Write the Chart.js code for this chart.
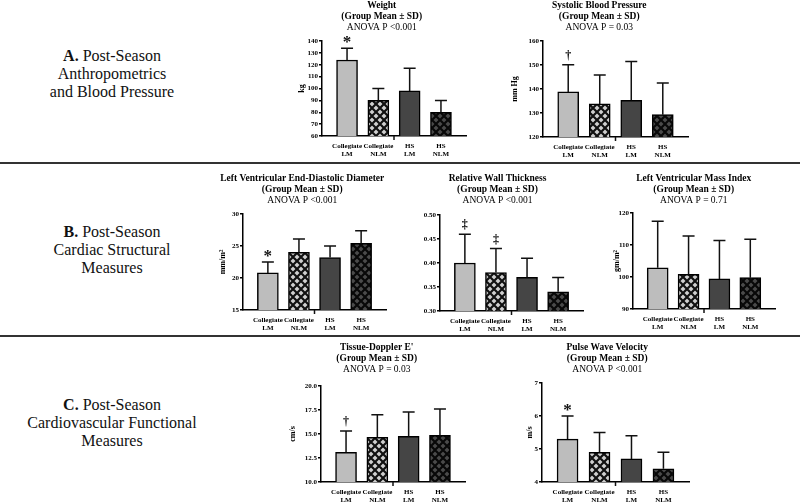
<!DOCTYPE html>
<html>
<head>
<meta charset="utf-8">
<script src="https://cdn.jsdelivr.net/npm/chart.js@4"></script>
<style>
  html, body { margin: 0; padding: 0; background: #fff; }
  body { width: 800px; height: 504px; position: relative; overflow: hidden; font-family: 'Liberation Serif', 'Times New Roman', serif; }
  canvas { position: absolute; }
  .section { position: absolute; left: 0; width: 224px; text-align: center; font-size: 16px; line-height: 18px; color: #111; }
  .rule { position: absolute; left: 0; width: 800px; height: 2px; background: #333; }
</style>
</head>
<body>
<div class="section" style="top:47px"><b>A.</b> Post-Season<br>Anthropometrics<br>and Blood Pressure</div>
<div class="rule" style="top:162px"></div>
<div class="section" style="top:223px"><b>B.</b> Post-Season<br>Cardiac Structural<br>Measures</div>
<div class="rule" style="top:335px"></div>
<div class="section" style="top:396px"><b>C.</b> Post-Season<br>Cardiovascular Functional<br>Measures</div>

<script>
// groupes (identiques pour chaque panneau)
const groupLabels = [['Collegiate', 'LM'], ['Collegiate', 'NLM'], ['HS', 'LM'], ['HS', 'NLM']];

// A. Poids et pression systolique
const weightMean = [124, 90, 98, 80];
const weightSD = [10, 10, 19, 10];
const weightMarks = ['*', '', '', ''];

const sbpMean = [138.8, 133.8, 135.3, 129.3];
const sbpSD = [11.3, 12.0, 16.2, 13.2];
const sbpMarks = ['†', '', '', ''];

// B. Structure cardiaque
const lveddMean = [20.8, 24.0, 23.2, 25.4];
const lveddSD = [1.7, 2.1, 1.8, 2.0];
const lveddMarks = ['*', '', '', ''];

const rwtMean = [0.40, 0.38, 0.37, 0.34];
const rwtSD = [0.06, 0.05, 0.04, 0.03];
const rwtMarks = ['‡', '‡', '', ''];

const lvmiMean = [102.9, 100.8, 99.4, 99.8];
const lvmiSD = [14.5, 12.0, 12.0, 12.0];
const lvmiMarks = ['', '', '', ''];

// C. Fonction cardiovasculaire
const eMean = [13.1, 14.65, 14.75, 14.85];
const eSD = [2.2, 2.35, 2.55, 2.75];
const eMarks = ['†', '', '', ''];

const pwvMean = [5.3, 4.9, 4.7, 4.4];
const pwvSD = [0.7, 0.6, 0.7, 0.5];
const pwvMarks = ['*', '', '', ''];

Chart.defaults.font.family = "'Liberation Serif', 'Times New Roman', serif";
Chart.defaults.color = '#000';

// motif "damier" en diagonale pour les groupes NLM
function makePattern(bg, line) {
  const c = document.createElement('canvas');
  c.width = 8; c.height = 8;
  const g = c.getContext('2d');
  g.fillStyle = bg;
  g.fillRect(0, 0, 8, 8);
  g.strokeStyle = line;
  g.lineWidth = 2.2;
  g.beginPath();
  g.moveTo(-1, -1); g.lineTo(9, 9);
  g.moveTo(-1, 9); g.lineTo(9, -1);
  g.stroke();
  return g.createPattern(c, 'repeat');
}
const barColors = ['#bdbdbd', makePattern('#cfcfcf', '#111'), '#454545', makePattern('#4a4a4a', '#080808')];

// barres d'erreur (moyenne + ET), marques de significativité, tick central
const errBars = {
  id: 'errbars',
  afterDatasetsDraw(chart, args, opts) {
    const ctx = chart.ctx;
    const yS = chart.scales.y, xS = chart.scales.x;
    const meta = chart.getDatasetMeta(0);
    const vals = chart.data.datasets[0].data;
    ctx.save();
    ctx.strokeStyle = '#111';
    ctx.lineWidth = 1.5;
    meta.data.forEach((bar, i) => {
      const top = yS.getPixelForValue(vals[i].y + opts.sd[i]);
      ctx.beginPath();
      ctx.moveTo(bar.x, bar.y);
      ctx.lineTo(bar.x, top);
      ctx.moveTo(bar.x - 6, top);
      ctx.lineTo(bar.x + 6, top);
      ctx.stroke();
      const m = opts.marks[i];
      if (m) {
        ctx.fillStyle = '#111';
        ctx.textAlign = 'center';
        ctx.textBaseline = 'alphabetic';
        if (m === '*') {
          ctx.font = "bold 17px 'Liberation Serif'";
          ctx.fillText(m, bar.x, top - 1);
        } else {
          ctx.font = "bold 12px 'Liberation Serif'";
          ctx.fillText(m, bar.x, top - 6);
        }
      }
    });
    const mx = xS.getPixelForValue(1.5);
    ctx.beginPath();
    ctx.moveTo(mx, chart.chartArea.bottom);
    ctx.lineTo(mx, chart.chartArea.bottom + 4);
    ctx.stroke();
    ctx.restore();
  }
};

function drawPanel(p) {
  const lh = 9;
  const yW = p.yTitleX ? p.axisL - p.yTitleX + lh / 2 : 28;
  const half = Math.max(p.titleX - (p.axisL - yW), p.axisR - p.titleX) + 2;
  const left = Math.round(p.titleX - half);
  const right = Math.round(p.titleX + half);
  const xH = 28;
  const canvas = document.createElement('canvas');
  canvas.width = right - left;
  canvas.height = p.plotB + xH - p.titleTop + 2;
  canvas.style.left = left + 'px';
  canvas.style.top = p.titleTop + 'px';
  document.body.appendChild(canvas);

  new Chart(canvas, {
    type: 'bar',
    data: {
      datasets: [{
        data: p.mean.map((v, i) => ({ x: i, y: v })),
        backgroundColor: barColors,
        borderColor: '#000',
        borderWidth: 1.5,
        barThickness: 21
      }]
    },
    options: {
      responsive: false,
      animation: false,
      devicePixelRatio: 1,
      layout: { padding: { left: p.axisL - yW - left, right: right - p.axisR, top: 0, bottom: 2 } },
      plugins: {
        legend: { display: false },
        tooltip: { enabled: false },
        title: {
          display: true,
          text: [p.title, '(Group Mean ± SD)'],
          font: { size: 9.5, weight: 'bold', lineHeight: '11px' },
          padding: { top: 0, bottom: 0 },
          color: '#000'
        },
        subtitle: {
          display: true,
          text: p.anova,
          font: { size: 9.5, weight: 'normal', lineHeight: '11px' },
          padding: { top: 0, bottom: p.plotT - p.titleTop - 33 },
          color: '#000'
        },
        errbars: { sd: p.sd, marks: p.marks }
      },
      scales: {
        x: {
          type: 'linear',
          min: -0.8,
          max: 3.8,
          offset: false,
          bounds: 'data',
          afterBuildTicks: s => { s.ticks = groupLabels.map((l, i) => ({ value: i })); },
          afterFit: s => { s.height = xH; },
          ticks: {
            callback: v => groupLabels[v],
            font: { size: 7, weight: 'bold', lineHeight: '8px' },
            padding: 6,
            maxRotation: 0,
            autoSkip: false
          },
          grid: { display: true, drawOnChartArea: false, drawTicks: false, offset: false },
          border: { color: '#000', width: 1.5 }
        },
        y: {
          min: p.min,
          max: p.max,
          afterFit: s => { s.width = yW; },
          ticks: {
            stepSize: p.step,
            callback: v => v.toFixed(p.dec),
            font: { size: 7, weight: 'bold' },
            padding: 1
          },
          grid: { display: true, drawOnChartArea: false, drawTicks: true, tickLength: 3, color: '#000', lineWidth: 1.5 },
          border: { color: '#000', width: 1.5 },
          title: {
            display: !!p.yTitle,
            text: p.yTitle,
            font: { size: 8, weight: 'bold', lineHeight: lh + 'px' },
            padding: 0
          }
        }
      }
    },
    plugins: [errBars]
  });
}

drawPanel({ title: 'Weight', anova: 'ANOVA P <0.001', yTitle: 'kg', mean: weightMean, sd: weightSD, marks: weightMarks,
  min: 60, max: 140, step: 10, dec: 0,
  axisL: 322, axisR: 466, plotT: 41, plotB: 136, titleTop: 0, titleX: 392, yTitleX: 302 });
drawPanel({ title: 'Systolic Blood Pressure', anova: 'ANOVA P = 0.03', yTitle: 'mm Hg', mean: sbpMean, sd: sbpSD, marks: sbpMarks,
  min: 120, max: 160, step: 10, dec: 0,
  axisL: 543, axisR: 688, plotT: 41, plotB: 137, titleTop: 0, titleX: 605, yTitleX: 515 });
drawPanel({ title: 'Left Ventricular End-Diastolic Diameter', anova: 'ANOVA P <0.001', yTitle: 'mm/m²', mean: lveddMean, sd: lveddSD, marks: lveddMarks,
  min: 15, max: 30, step: 5, dec: 0,
  axisL: 243, axisR: 386, plotT: 214, plotB: 310, titleTop: 173, titleX: 311, yTitleX: 223 });
drawPanel({ title: 'Relative Wall Thickness', anova: 'ANOVA P <0.001', yTitle: '', mean: rwtMean, sd: rwtSD, marks: rwtMarks,
  min: 0.30, max: 0.50, step: 0.05, dec: 2,
  axisL: 440, axisR: 583, plotT: 215, plotB: 311, titleTop: 173, titleX: 512, yTitleX: 0 });
drawPanel({ title: 'Left Ventricular Mass Index', anova: 'ANOVA P = 0.71', yTitle: 'gm/m²', mean: lvmiMean, sd: lvmiSD, marks: lvmiMarks,
  min: 90, max: 120, step: 10, dec: 0,
  axisL: 633, axisR: 775, plotT: 213, plotB: 309, titleTop: 173, titleX: 697, yTitleX: 617 });
drawPanel({ title: "Tissue-Doppler E'", anova: 'ANOVA P = 0.03', yTitle: 'cm/s', mean: eMean, sd: eSD, marks: eMarks,
  min: 10, max: 20, step: 2.5, dec: 1,
  axisL: 321, axisR: 465, plotT: 386, plotB: 482, titleTop: 342, titleX: 393, yTitleX: 293 });
drawPanel({ title: 'Pulse Wave Velocity', anova: 'ANOVA P <0.001', yTitle: 'm/s', mean: pwvMean, sd: pwvSD, marks: pwvMarks,
  min: 4, max: 7, step: 1, dec: 0,
  axisL: 542, axisR: 689, plotT: 383, plotB: 482, titleTop: 342, titleX: 617, yTitleX: 530 });
</script>
</body>
</html>
